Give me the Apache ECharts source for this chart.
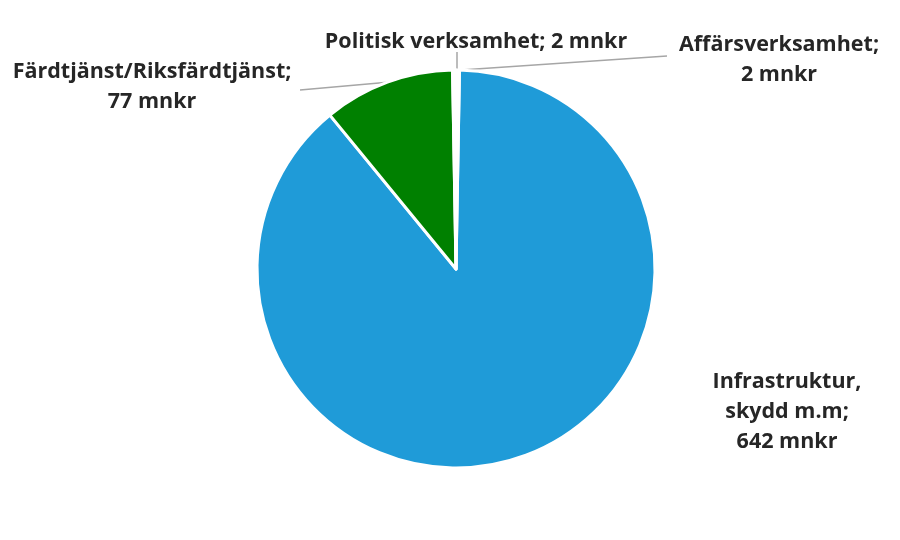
<!DOCTYPE html>
<html lang="sv">
<head>
    <meta charset="UTF-8">
    <title>Kostnader</title>
    <style>
        html, body { margin: 0; padding: 0; background: #fff; }
    </style>
</head>
<body>
<div id="main" style="width: 900px;height:540px;"></div>
<script src="https://cdn.jsdelivr.net/npm/echarts@6/dist/echarts.min.js"></script>
<script type="text/javascript">
    // data
    var names = ['Infrastruktur,\nskydd m.m', 'Färdtjänst/Riksfärdtjänst', 'Politisk verksamhet', 'Affärsverksamhet'];
    var values = [642, 77, 2, 2];
    var colors = ['#1f9bd8', '#008000', '#ffffff', '#ffffff'];
    var unit = 'mnkr';

    // label text per slice (line breaks as in the original)
    var labelTexts = [
        names[0] + ';\n' + values[0] + ' ' + unit,
        names[1] + ';\n' + values[1] + ' ' + unit,
        names[2] + '; ' + values[2] + ' ' + unit,
        names[3] + ';\n' + values[3] + ' ' + unit
    ];

    // where each label sits (centre of the text block) and where its line ends
    var labelPos = [[787, 412], [152, 87], [476, 42], [779, 60]];
    var lineEnd = [null, [300, 90], [457, 52], [667, 56]];

    var data = values.map(function (v, i) {
        return { name: names[i], value: v, itemStyle: { color: colors[i] } };
    });

    var myChart = echarts.init(document.getElementById('main'));

    var option = {
        animation: false,
        series: [{
            type: 'pie',
            center: [456, 269],
            radius: 199,
            startAngle: 89,
            clockwise: true,
            itemStyle: { borderColor: '#fff', borderWidth: 3 },
            label: {
                show: true,
                position: 'outside',
                formatter: function (p) { return labelTexts[p.dataIndex]; },
                color: '#262626',
                fontFamily: 'Open Sans',
                fontWeight: 'bold',
                fontSize: 21.5,
                lineHeight: 30,
                align: 'center',
                overflow: 'none'
            },
            labelLine: {
                show: true,
                lineStyle: { color: '#a6a6a6', width: 1.5 }
            },
            labelLayout: function (params) {
                var i = params.dataIndex;
                var res = {
                    x: labelPos[i][0],
                    y: labelPos[i][1],
                    align: 'center',
                    verticalAlign: 'middle',
                    width: 400
                };
                var pts = params.labelLinePoints;
                if (lineEnd[i] && pts) {
                    var start = pts[0];
                    if (i === 2) start = [lineEnd[i][0], start[1]];
                    if (i === 3) start = [lineEnd[2][0] + 4, start[1]];
                    res.labelLinePoints = [start, lineEnd[i], lineEnd[i]];
                } else {
                    res.labelLinePoints = [[0, 0], [0, 0], [0, 0]];
                }
                return res;
            },
            data: data
        }]
    };

    myChart.setOption(option);
</script>
</body>
</html>
